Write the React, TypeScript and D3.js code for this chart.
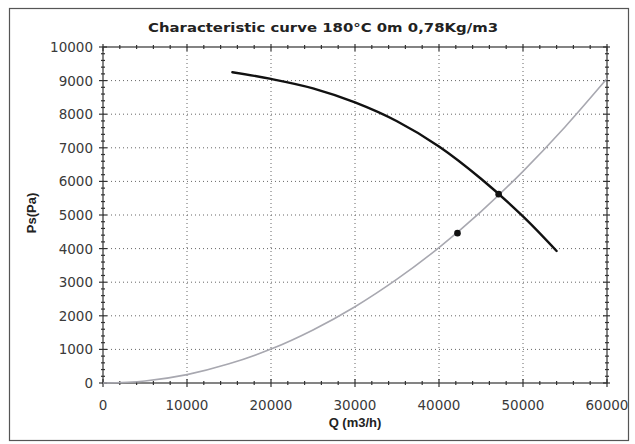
import React from "react";
import * as d3 from "d3";

const W = 635;
const H = 444;

const titleText = "Characteristic curve 180°C 0m 0,78Kg/m3";
const xLabel = "Q (m3/h)";
const yLabel = "Ps(Pa)";

const xTicks = [0, 10000, 20000, 30000, 40000, 50000, 60000];
const yTicks = [0, 1000, 2000, 3000, 4000, 5000, 6000, 7000, 8000, 9000, 10000];

// Fan characteristic curve (black)
const fanQ = [15400, 20000, 25000, 30000, 35000, 40000, 45000, 50000, 54000];
const fanP = [9250, 9050, 8770, 8350, 7790, 7040, 6080, 4960, 3930];

// System curve (gray)
const sysQ = [0, 5000, 10000, 15000, 20000, 25000, 30000, 35000, 40000, 45000, 50000, 55000, 60000];
const sysP = [0, 60, 250, 570, 1010, 1580, 2270, 3090, 4030, 5100, 6300, 7620, 9060];

// Marked points
const ptQ = [42200, 47100];
const ptP = [4460, 5620];

export default function App() {
  const left = 103, right = 607, top = 47, bottom = 383;
  const x = d3.scaleLinear().domain([0, 60000]).range([left, right]);
  const y = d3.scaleLinear().domain([0, 10000]).range([bottom, top]);

  const line = d3
    .line<[number, number]>()
    .x((d) => x(d[0]))
    .y((d) => y(d[1]))
    .curve(d3.curveCatmullRom.alpha(0.5));

  const fanData: [number, number][] = fanQ.map((q, i) => [q, fanP[i]]);
  const sysData: [number, number][] = sysQ.map((q, i) => [q, sysP[i]]);

  const xMinor = d3.range(0, 60001, 2000).filter((v) => v % 10000 !== 0);
  const yMinor = d3.range(0, 10001, 200).filter((v) => v % 1000 !== 0);

  const tickColor = "#333";

  return (
    <svg
      width={W}
      height={H}
      style={{ position: "absolute", left: 0, top: 0, background: "#fff" }}
    >
      <rect x={0} y={0} width={W} height={H} fill="#fff" />
      <rect x={9.5} y={8.5} width={619} height={432} fill="none" stroke="#555" strokeWidth={1.2} />

      <text
        x={323}
        y={32}
        textAnchor="middle"
        fontFamily="'DejaVu Sans', sans-serif"
        fontWeight="bold"
        fontSize={13}
        textLength={350}
        lengthAdjust="spacingAndGlyphs"
        fill="#222"
      >
        {titleText}
      </text>

      {/* grid */}
      {xTicks
        .filter((v) => v > 0 && v < 60000)
        .map((v) => (
          <line
            key={"gx" + v}
            x1={x(v)}
            x2={x(v)}
            y1={top}
            y2={bottom}
            stroke="#666"
            strokeWidth={1}
            strokeDasharray="1,3"
          />
        ))}
      {yTicks
        .filter((v) => v > 0 && v < 10000)
        .map((v) => (
          <line
            key={"gy" + v}
            x1={left}
            x2={right}
            y1={y(v)}
            y2={y(v)}
            stroke="#666"
            strokeWidth={1}
            strokeDasharray="1,3"
          />
        ))}

      {/* frame */}
      <rect
        x={left}
        y={top}
        width={right - left}
        height={bottom - top}
        fill="none"
        stroke="#333"
        strokeWidth={1.2}
      />

      {/* ticks */}
      {xTicks.map((v) => (
        <g key={"tx" + v}>
          <line x1={x(v)} x2={x(v)} y1={bottom - 4} y2={bottom + 4} stroke={tickColor} strokeWidth={1.2} />
          <line x1={x(v)} x2={x(v)} y1={top - 3} y2={top + 4} stroke={tickColor} strokeWidth={1.2} />
        </g>
      ))}
      {xMinor.map((v) => (
        <g key={"mx" + v}>
          <line x1={x(v)} x2={x(v)} y1={bottom - 2} y2={bottom + 2} stroke={tickColor} strokeWidth={1.2} />
          <line x1={x(v)} x2={x(v)} y1={top - 2} y2={top + 2} stroke={tickColor} strokeWidth={1.2} />
        </g>
      ))}
      {yTicks.map((v) => (
        <g key={"ty" + v}>
          <line x1={left - 4} x2={left + 4} y1={y(v)} y2={y(v)} stroke={tickColor} strokeWidth={1.2} />
          <line x1={right - 4} x2={right + 3} y1={y(v)} y2={y(v)} stroke={tickColor} strokeWidth={1.2} />
        </g>
      ))}
      {yMinor.map((v) => (
        <g key={"my" + v}>
          <line x1={left - 2} x2={left + 2} y1={y(v)} y2={y(v)} stroke={tickColor} strokeWidth={1.2} />
          <line x1={right - 2} x2={right + 2} y1={y(v)} y2={y(v)} stroke={tickColor} strokeWidth={1.2} />
        </g>
      ))}

      {/* tick labels */}
      {xTicks.map((v) => (
        <text
          key={"lx" + v}
          x={x(v)}
          y={410}
          textAnchor="middle"
          fontFamily="'DejaVu Sans', sans-serif"
          fontSize={13.5}
          fill="#3a3a3a"
        >
          {v}
        </text>
      ))}
      {yTicks.map((v) => (
        <text
          key={"ly" + v}
          x={93}
          y={y(v) + 5}
          textAnchor="end"
          fontFamily="'DejaVu Sans', sans-serif"
          fontSize={13.5}
          fill="#3a3a3a"
        >
          {v}
        </text>
      ))}

      <text
        x={355}
        y={427}
        textAnchor="middle"
        fontFamily="'Liberation Sans', Arial, sans-serif"
        fontWeight="bold"
        fontSize={13}
        fill="#222"
      >
        {xLabel}
      </text>
      <text
        transform={`translate(36, 213) rotate(-90)`}
        textAnchor="middle"
        fontFamily="'Liberation Sans', Arial, sans-serif"
        fontWeight="bold"
        fontSize={13}
        fill="#222"
      >
        {yLabel}
      </text>

      {/* curves */}
      <path d={line(sysData) || ""} fill="none" stroke="#a8a8b0" strokeWidth={1.6} />
      <path d={line(fanData) || ""} fill="none" stroke="#111" strokeWidth={2.4} strokeLinecap="round" />

      {ptQ.map((q, i) => (
        <circle key={"pt" + i} cx={x(q)} cy={y(ptP[i])} r={3.3} fill="#111" />
      ))}
    </svg>
  );
}
